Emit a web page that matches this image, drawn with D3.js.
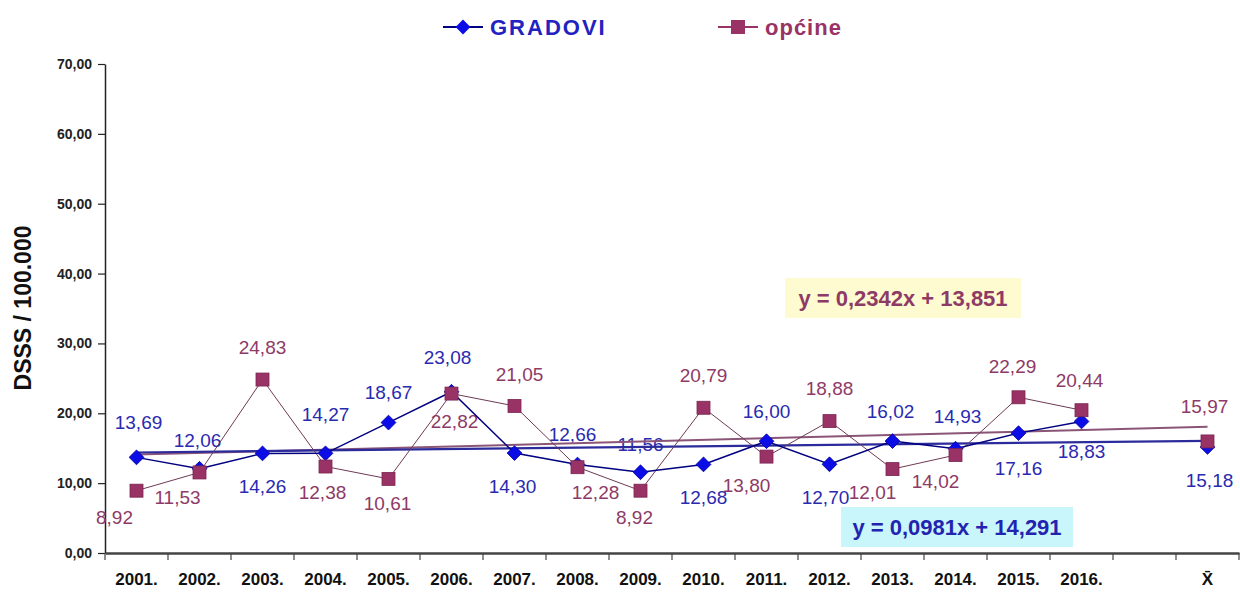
<!DOCTYPE html>
<html>
<head>
<meta charset="utf-8">
<script src="https://cdn.jsdelivr.net/npm/d3@7"></script>
<style>
  body { margin: 0; background: #fff; }
  svg { display: block; font-family: "Liberation Sans", Arial, sans-serif; }
</style>
</head>
<body>
<svg id="chart" width="1240" height="594"></svg>
<script>
// Categories: years, an empty slot, then the mean (X̄)
const categories = ["2001.", "2002.", "2003.", "2004.", "2005.", "2006.", "2007.", "2008.",
  "2009.", "2010.", "2011.", "2012.", "2013.", "2014.", "2015.", "2016.", "", "X\u0304"];

// DSSS per 100.000 – towns (GRADOVI) and municipalities (općine)
const gradovi = [13.69, 12.06, 14.26, 14.27, 18.67, 23.08, 14.30, 12.66,
  11.56, 12.68, 16.00, 12.70, 16.02, 14.93, 17.16, 18.83, null, 15.18];
const opcine = [8.92, 11.53, 24.83, 12.38, 10.61, 22.82, 21.05, 12.28,
  8.92, 20.79, 13.80, 18.88, 12.01, 14.02, 22.29, 20.44, null, 15.97];

// Linear trend lines (x = category number, starting at 1)
const trendGradovi = [0.0981, 14.291];
const trendOpcine = [0.2342, 13.851];

const yTicks = [0, 10, 20, 30, 40, 50, 60, 70];

// Label placement relative to each marker [dx, dy]
const gradoviLabelPos = [[2,-35],[-2,-28],[0,33],[0,-39],[0,-30],[-4,-34],[-2,33],[-5,-30],
  [0,-28],[0,33],[0,-30],[-4,33],[-2,-30],[2,-32],[0,35],[0,30],null,[2,34]];
const opcineLabelPos = [[-22,27],[-22,25],[0,-32],[-3,26],[-1,25],[3,28],[5,-31],[18,25],
  [-6,27],[0,-32],[-20,29],[0,-33],[-20,23],[-20,26],[-6,-31],[-2,-30],null,[-3,-35]];

const BLUE = "#0c0ce6", BLUE_TXT = "#2a2ab0", NAVY = "#000080";
const PLUM = "#993366", PLUM_TXT = "#8e3a66";

const svg = d3.select("#chart");
const plotLeft = 105, plotRight = 1239, plotTop = 64, plotBottom = 553;

const x = d3.scaleBand().domain(d3.range(categories.length)).range([plotLeft, plotRight]).padding(0);
const cx = i => x(i) + x.bandwidth() / 2;
const y = d3.scaleLinear().domain([0, 70]).range([plotBottom, plotTop]);
const fmt = v => v.toFixed(2).replace(".", ",");

// Y axis
const yAxis = svg.append("g").attr("transform", `translate(${plotLeft},0)`)
  .call(d3.axisLeft(y).tickValues(yTicks).tickFormat(fmt).tickSize(7).tickSizeOuter(0));
yAxis.select(".domain").attr("stroke", "#222").attr("stroke-width", 1.5);
yAxis.selectAll(".tick line").attr("stroke", "#222").attr("stroke-width", 1.2);
yAxis.selectAll(".tick text").attr("x", -13).attr("fill", "#222")
  .style("font-size", "14px").style("font-weight", "bold")
  .style("font-family", "'Liberation Sans', Arial, sans-serif");

// X axis: labels centred in categories, ticks on category boundaries
const xAxis = svg.append("g").attr("transform", `translate(0,${plotBottom})`)
  .call(d3.axisBottom(x).tickFormat(i => categories[i]).tickSize(0).tickSizeOuter(0));
xAxis.select(".domain").attr("stroke", "#444").attr("stroke-width", 2.5);
xAxis.selectAll(".tick text").attr("y", 20).attr("fill", "#111")
  .style("font-size", "17px").style("font-weight", "bold")
  .style("font-family", "'Liberation Sans', Arial, sans-serif");
const bounds = d3.range(categories.length).map(i => x(i)).concat([plotRight]);
svg.append("g").selectAll("line").data(bounds).join("line")
  .attr("x1", d => d).attr("x2", d => d)
  .attr("y1", plotBottom).attr("y2", plotBottom + 7)
  .attr("stroke", "#444").attr("stroke-width", 1.2);

// Y axis title
svg.append("text")
  .attr("transform", `translate(23,308) rotate(-90)`)
  .attr("text-anchor", "middle").attr("dominant-baseline", "central")
  .style("font-size", "23px").style("font-weight", "bold").attr("fill", "#111")
  .text("DSSS / 100.000");

// Equation boxes
function eqBox(cxp, cyp, w, h, fill, color, txt) {
  svg.append("rect").attr("x", cxp - w / 2).attr("y", cyp - h / 2)
    .attr("width", w).attr("height", h).attr("fill", fill);
  svg.append("text").attr("x", cxp).attr("y", cyp)
    .attr("text-anchor", "middle").attr("dominant-baseline", "central")
    .style("font-size", "22px").style("font-weight", "bold").attr("fill", color)
    .text(txt);
}
const eqText = t => `y = ${String(t[0]).replace(".", ",")}x + ${String(t[1]).replace(".", ",")}`;
eqBox(903, 298, 236, 40, "#fdfbcf", "#8e3a66", eqText(trendOpcine));
eqBox(957, 527, 232, 40, "#c9f6fb", "#2323b0", eqText(trendGradovi));

// Data labels
function labels(data, pos, color) {
  svg.append("g").selectAll("text")
    .data(data.map((v, i) => ({ v, i })).filter(d => d.v !== null))
    .join("text")
    .attr("x", d => cx(d.i) + pos[d.i][0])
    .attr("y", d => y(d.v) + pos[d.i][1])
    .attr("text-anchor", "middle").attr("dominant-baseline", "central")
    .style("font-size", "19px").attr("fill", color)
    .text(d => fmt(d.v));
}
labels(opcine, opcineLabelPos, PLUM_TXT);
labels(gradovi, gradoviLabelPos, BLUE_TXT);

// Trend lines
function trend(t, color, width) {
  const n = categories.length;
  svg.append("line")
    .attr("x1", cx(0)).attr("y1", y(t[0] * 1 + t[1]))
    .attr("x2", cx(n - 1)).attr("y2", y(t[0] * n + t[1]))
    .attr("stroke", color).attr("stroke-width", width);
}
trend(trendOpcine, "#8a5577", 2);
trend(trendGradovi, "#2b2b9c", 2.2);

// Series lines (gap before the mean)
const line = d3.line().defined(d => d !== null).x((d, i) => cx(i)).y(d => y(d));
svg.append("path").datum(opcine).attr("d", line)
  .attr("fill", "none").attr("stroke", "#6e3a55").attr("stroke-width", 1);
svg.append("path").datum(gradovi).attr("d", line)
  .attr("fill", "none").attr("stroke", NAVY).attr("stroke-width", 1.5);

// Markers
const pts = data => data.map((v, i) => ({ v, i })).filter(d => d.v !== null);
svg.append("g").selectAll("path").data(pts(gradovi)).join("path")
  .attr("d", d3.symbol(d3.symbolDiamond2, 140))
  .attr("transform", d => `translate(${cx(d.i)},${y(d.v)})`)
  .attr("fill", BLUE).attr("stroke", "#0000a0").attr("stroke-width", 0.8);
svg.append("g").selectAll("rect").data(pts(opcine)).join("rect")
  .attr("x", d => cx(d.i) - 6.5).attr("y", d => y(d.v) - 6.5)
  .attr("width", 13).attr("height", 13)
  .attr("fill", PLUM).attr("stroke", "#7a2550").attr("stroke-width", 0.8);

// Legend
const leg = svg.append("g");
leg.append("line").attr("x1", 443).attr("x2", 483).attr("y1", 27).attr("y2", 27)
  .attr("stroke", NAVY).attr("stroke-width", 2);
leg.append("path").attr("d", d3.symbol(d3.symbolDiamond2, 140))
  .attr("transform", "translate(463,27)").attr("fill", BLUE);
leg.append("text").attr("x", 490).attr("y", 27).attr("dominant-baseline", "central")
  .style("font-size", "22px").style("font-weight", "bold").style("letter-spacing", "2px")
  .attr("fill", "#2222c0").text("GRADOVI");
leg.append("line").attr("x1", 718).attr("x2", 758).attr("y1", 27).attr("y2", 27)
  .attr("stroke", PLUM).attr("stroke-width", 2);
leg.append("rect").attr("x", 731).attr("y", 20).attr("width", 14).attr("height", 14)
  .attr("fill", PLUM);
leg.append("text").attr("x", 765).attr("y", 27).attr("dominant-baseline", "central")
  .style("font-size", "22px").style("font-weight", "bold").style("letter-spacing", "1px")
  .attr("fill", "#993366").text("općine");
</script>
</body>
</html>
